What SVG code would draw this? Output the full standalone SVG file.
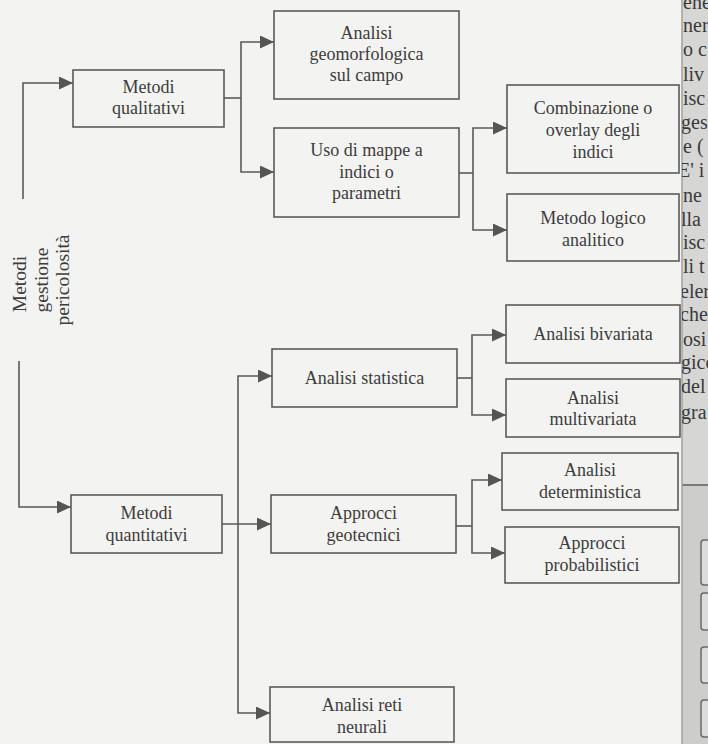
<svg xmlns="http://www.w3.org/2000/svg" width="708" height="744" viewBox="0 0 708 744">
<style>
.box{fill:none;stroke:#5a5a5a;stroke-width:1.6}
.t{font-family:"Liberation Serif","Times New Roman",serif;font-size:18px;fill:#3c3c3c;text-anchor:middle}
.v{font-size:19.5px}
.c{fill:none;stroke:#5a5a5a;stroke-width:1.6}
.ca{fill:none;stroke:#5a5a5a;stroke-width:1.6;marker-end:url(#ah)}
.m{font-family:"Liberation Serif","Times New Roman",serif;font-size:20px;fill:#3a3a3a}
</style>
<defs>
<marker id="ah" viewBox="0 0 14 13" refX="14" refY="6.5" markerWidth="14" markerHeight="13" markerUnits="userSpaceOnUse" orient="auto">
<path d="M0,0 L14,6.5 L0,13 Z" fill="#555"/>
</marker>
<clipPath id="strip"><rect x="682" y="0" width="26" height="744"/></clipPath>
</defs>
<rect width="708" height="744" fill="#f3f3f1"/>
<g id="page-margin">
<rect x="682" y="0" width="26" height="744" fill="#d6d6d4"/>
<rect x="682" y="485" width="26" height="259" fill="#cdcdcb"/>
<line x1="682" y1="485" x2="708" y2="485" stroke="#7a7a7a" stroke-width="2"/>
<line x1="682" y1="0" x2="682" y2="744" stroke="#a0a0a0" stroke-width="1.5"/>
<g fill="#dcdcda" stroke="#6a6a6a" stroke-width="1.5">
<rect x="701" y="540" width="14" height="45" rx="3"/>
<rect x="701" y="593" width="14" height="37" rx="3"/>
<rect x="701" y="647" width="14" height="36" rx="3"/>
<rect x="701" y="700" width="14" height="37" rx="3"/>
</g>
<g clip-path="url(#strip)" class="m">
<text x="683" y="9">ene</text>
<text x="683" y="32">ner</text>
<text x="683" y="56">o c</text>
<text x="683" y="81">liv</text>
<text x="683" y="105">isc</text>
<text x="681" y="129">ges</text>
<text x="683" y="153">e (</text>
<text x="678" y="177">E' i</text>
<text x="683" y="202">ne</text>
<text x="681" y="226">lla</text>
<text x="683" y="249">isc</text>
<text x="683" y="273">li t</text>
<text x="680" y="298">eler</text>
<text x="680" y="321">che</text>
<text x="683" y="346">osi</text>
<text x="681" y="369">gico</text>
<text x="681" y="393">del</text>
<text x="681" y="419">gra</text>
</g>
</g>
<g id="connectors">
<path class="ca" d="M23,199 V83 H73"/>
<path class="ca" d="M19,361 V507 H71"/>
<path class="c" d="M224,98 H241"/>
<path class="ca" d="M241,98 V42 H274"/>
<path class="ca" d="M241,98 V172 H274"/>
<path class="c" d="M459,173 H473"/>
<path class="ca" d="M473,173 V128 H507"/>
<path class="ca" d="M473,173 V230 H507"/>
<path class="ca" d="M222,524 H271"/>
<path class="ca" d="M238,524 V376 H272"/>
<path class="ca" d="M238,524 V713 H270"/>
<path class="c" d="M457,378 H472"/>
<path class="ca" d="M472,378 V335 H506"/>
<path class="ca" d="M472,378 V415 H506"/>
<path class="c" d="M456,526 H472"/>
<path class="ca" d="M472,526 V480 H502"/>
<path class="ca" d="M472,526 V553 H505"/>
</g>
<g id="root">
<g transform="translate(19,284) rotate(-90)"><text class="t v" x="0" y="7">Metodi</text></g>
<g transform="translate(41,280) rotate(-90)"><text class="t v" x="0" y="7">gestione</text></g>
<g transform="translate(62,280) rotate(-90)"><text class="t v" x="0" y="7">pericolosità</text></g>
</g>
<g id="qualitativi">
<rect class="box" x="73" y="70" width="151" height="57"/>
<text class="t" x="148.5" y="93">Metodi</text>
<text class="t" x="148.5" y="114">qualitativi</text>
</g>
<g id="geomorfologica">
<rect class="box" x="274" y="11" width="185" height="88"/>
<text class="t" x="366.5" y="39">Analisi</text>
<text class="t" x="366.5" y="60">geomorfologica</text>
<text class="t" x="366.5" y="81">sul campo</text>
</g>
<g id="mappe">
<rect class="box" x="274" y="128" width="185" height="89"/>
<text class="t" x="366.5" y="156">Uso di mappe a</text>
<text class="t" x="366.5" y="178">indici o</text>
<text class="t" x="366.5" y="199">parametri</text>
</g>
<g id="combinazione">
<rect class="box" x="507" y="85" width="172" height="88"/>
<text class="t" x="593" y="114">Combinazione o</text>
<text class="t" x="593" y="136">overlay degli</text>
<text class="t" x="593" y="158">indici</text>
</g>
<g id="logico">
<rect class="box" x="507" y="194" width="172" height="67"/>
<text class="t" x="593" y="224">Metodo logico</text>
<text class="t" x="593" y="246">analitico</text>
</g>
<g id="quantitativi">
<rect class="box" x="71" y="495" width="151" height="58"/>
<text class="t" x="146.5" y="519">Metodi</text>
<text class="t" x="146.5" y="541">quantitativi</text>
</g>
<g id="statistica">
<rect class="box" x="272" y="349" width="185" height="58"/>
<text class="t" x="364.5" y="384">Analisi statistica</text>
</g>
<g id="geotecnici">
<rect class="box" x="271" y="495" width="185" height="58"/>
<text class="t" x="363.5" y="519">Approcci</text>
<text class="t" x="363.5" y="541">geotecnici</text>
</g>
<g id="reti">
<rect class="box" x="270" y="687" width="184" height="55"/>
<text class="t" x="362" y="711">Analisi reti</text>
<text class="t" x="362" y="733">neurali</text>
</g>
<g id="bivariata">
<rect class="box" x="506" y="305" width="174" height="58"/>
<text class="t" x="593" y="340">Analisi bivariata</text>
</g>
<g id="multivariata">
<rect class="box" x="506" y="379" width="174" height="58"/>
<text class="t" x="593" y="404">Analisi</text>
<text class="t" x="593" y="425">multivariata</text>
</g>
<g id="deterministica">
<rect class="box" x="502" y="453" width="176" height="57"/>
<text class="t" x="590" y="476">Analisi</text>
<text class="t" x="590" y="498">deterministica</text>
</g>
<g id="probabilistici">
<rect class="box" x="505" y="527" width="174" height="56"/>
<text class="t" x="592" y="549">Approcci</text>
<text class="t" x="592" y="571">probabilistici</text>
</g>
</svg>
